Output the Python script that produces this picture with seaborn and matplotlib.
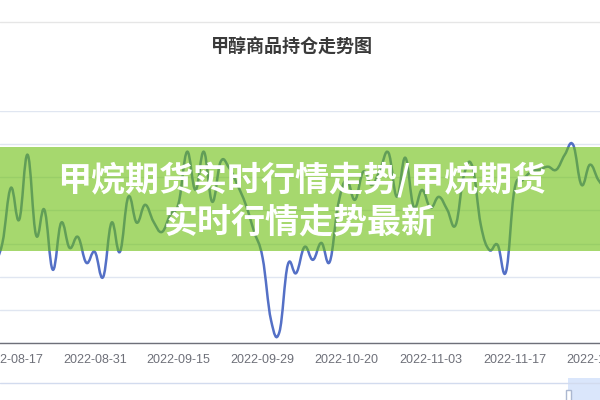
import pandas as pd
import seaborn as sns
import matplotlib.pyplot as plt
from matplotlib.path import Path
from matplotlib.patches import PathPatch, Rectangle
from matplotlib.lines import Line2D

# trading days visible in the window (category axis)
aug_days = [15, 16, 17, 18, 19, 22, 23, 24, 25, 26, 29, 30, 31]
sep_days = [1, 2, 5, 6, 7, 8, 9, 13, 14, 15, 16, 19, 20, 21, 22, 23, 26, 27, 28, 29, 30]
oct_days = [10, 11, 12, 13, 14, 17, 18, 19, 20, 21, 24, 25, 26, 27, 28, 31]
nov_days = [1, 2, 3, 4, 7, 8, 9, 10, 11, 14, 15, 16, 17, 18, 21, 22, 23, 24, 25, 28, 29, 30]
dec_days = [1, 2]

# open interest (arbitrary units: one gridline = 10)
aug_vals = [23.6, 30.2, 46.8, 37.2, 56.8, 32.6, 40.2, 22.1, 36.3, 28.7, 32.0, 24.2, 27.5]
sep_vals = [19.9, 36.3, 27.5, 44.1, 36.3, 41.7, 36.6, 33.5, 38.7, 42.3, 57.7,
            46.2, 57.7, 42.6, 54.7, 52.9, 47.7, 41.7, 33.5, 25.7, 6.9]
oct_vals = [3.3, 23.6, 21.1, 29.0, 25.1, 30.2, 24.5, 41.7, 49.2, 43.2, 51.7,
            47.7, 52.3, 57.4, 44.1, 55.9]
nov_vals = [41.1, 46.2, 40.8, 44.1, 40.2, 35.6, 50.8, 53.2, 35.6, 28.1, 29.6,
            21.5, 46.2, 49.2, 51.7, 52.3, 53.2, 52.3, 56.8, 59.8, 47.7, 53.8]
dec_vals = [49.2, 46.2]

tick_dates = ['2022-08-17', '2022-08-31', '2022-09-15', '2022-09-29',
              '2022-10-20', '2022-11-03', '2022-11-17', '2022-12-01']

title = '甲醇商品持仓走势图'
banner_1 = '甲烷期货实时行情走势/甲烷期货'
banner_2 = '实时行情走势最新'

dates = ([f'2022-08-{d:02d}' for d in aug_days] + [f'2022-09-{d:02d}' for d in sep_days] +
         [f'2022-10-{d:02d}' for d in oct_days] + [f'2022-11-{d:02d}' for d in nov_days] +
         [f'2022-12-{d:02d}' for d in dec_days])
values = aug_vals + sep_vals + oct_vals + nov_vals + dec_vals
df = pd.DataFrame({'date': dates, 'pos': range(len(dates)), 'value': values})

sns.set_theme(style='white')
plt.rcParams['font.family'] = ['Liberation Sans', 'Noto Sans CJK SC', 'DejaVu Sans']
cjk = ['Noto Sans CJK SC', 'DejaVu Sans']

fig = plt.figure(figsize=(6, 4), dpi=100)
fig.patch.set_facecolor('white')
ax = fig.add_axes([0, 0.1425, 1, 0.58])

sns.lineplot(data=df, x='pos', y='value', ax=ax, color='#5470c6', linewidth=1.8)

# smooth the seaborn line like the echarts "smooth" option
line = ax.lines[0]
xy = line.get_xydata()
n = len(xy)
verts = [tuple(xy[0])]
codes = [Path.MOVETO]
k = 0.2
for i in range(n - 1):
    a = xy[max(i - 1, 0)]
    b = xy[i]
    c = xy[i + 1]
    d = xy[min(i + 2, n - 1)]
    verts += [tuple(b + (c - a) * k), tuple(c - (d - b) * k), tuple(c)]
    codes += [Path.CURVE4] * 3
ax.add_patch(PathPatch(Path(verts, codes), fill=False, edgecolor=line.get_color(),
                       linewidth=line.get_linewidth(), capstyle='round', joinstyle='round'))
line.remove()

ax.set_ylim(0, 70)
ax.set_yticks(range(0, 71, 10))
ax.yaxis.grid(True, color='#e0e6f1', linewidth=1)
ax.tick_params(axis='y', length=0, labelleft=False)
ax.set_ylabel('')
ax.set_xlabel('')

tick_pos = [dates.index(t) for t in tick_dates]
ax.set_xlim(tick_pos[0] - 1.29, tick_pos[0] + 70.2)
ax.set_xticks(tick_pos)
ax.set_xticklabels(tick_dates)
ax.set_xticks([p - 0.5 for p in tick_pos], minor=True)
ax.tick_params(axis='x', which='major', length=0, pad=8, labelsize=9, labelcolor='#6e7079')
ax.tick_params(axis='x', which='minor', length=4, width=1, color='#6e7079', direction='out')
ax.xaxis.grid(False)
for s in ['top', 'left', 'right']:
    ax.spines[s].set_visible(False)
ax.spines['bottom'].set_color('#6e7079')
ax.spines['bottom'].set_linewidth(1)

# chart frame line and title
fig.add_artist(Line2D([0, 1], [0.945, 0.945], transform=fig.transFigure, color='#e6e6e6', lw=1))
fig.text(0.487, 0.882, title, ha='center', va='center', fontsize=13, fontweight='bold',
         color='#3a3a3a', family=cjk)

# data zoom slider at the bottom
fig.add_artist(Line2D([0, 1], [0.0425, 0.0425], transform=fig.transFigure, color='#d2dbee', lw=1))
fig.add_artist(Rectangle((0.9467, 0), 0.06, 0.055, transform=fig.transFigure,
                         facecolor='#87aff4', alpha=0.3, edgecolor='none'))
fig.add_artist(Rectangle((0.944, -0.01), 0.008, 0.035, transform=fig.transFigure,
                         facecolor='white', edgecolor='#acb8d1', lw=1))

# green banner overlay
fig.add_artist(Rectangle((0, 0.3725), 1, 0.26, transform=fig.transFigure,
                         facecolor='#6bbe0d', alpha=0.6, edgecolor='none', zorder=5))
fig.text(0.502, 0.55, banner_1, ha='center', va='center', fontsize=24.5, fontweight='heavy',
         color='white', family=cjk, zorder=6)
fig.text(0.5, 0.445, banner_2, ha='center', va='center', fontsize=24.5, fontweight='heavy',
         color='white', family=cjk, zorder=6)

fig.savefig('out.png', dpi=100)
